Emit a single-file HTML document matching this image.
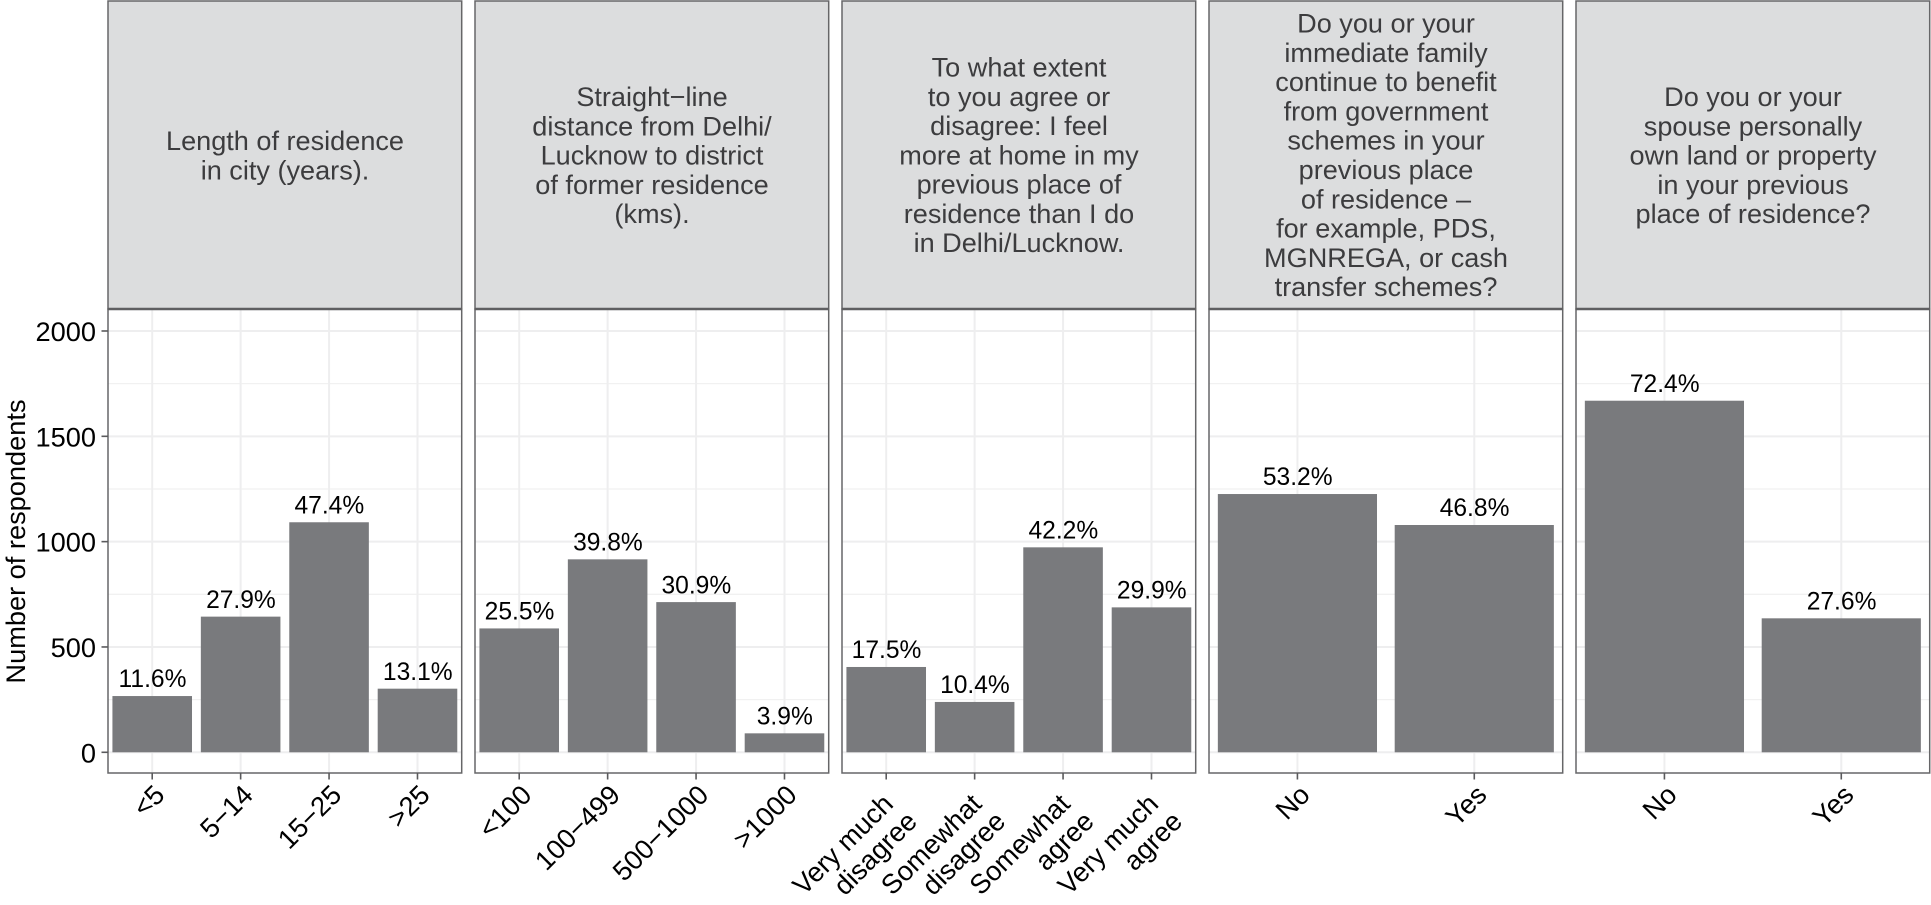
<!DOCTYPE html>
<html lang="en">
<head>
<meta charset="utf-8">
<title>Respondents by residence and ties to previous place</title>
<style>
  html, body { margin: 0; padding: 0; background: #fff; }
  body { width: 1931px; height: 905px; overflow: hidden; }
  svg { display: block; font-family: "Liberation Sans", Arial, Helvetica, sans-serif; }
  .strip-title { font-size: 27.1px; fill: #3c3c3e; text-anchor: middle; }
</style>
</head>
<body>
<svg id="chart" xmlns="http://www.w3.org/2000/svg" width="1931" height="905" viewBox="0 0 1931 905">
  <g id="layer-panels"></g>

  <g>
    <text class="strip-title" x="285" y="150"><tspan x="285">Length of residence</tspan><tspan x="285" dy="29.26">in city (years).</tspan></text>
    <text class="strip-title" x="652" y="106"><tspan x="652">Straight−line</tspan><tspan x="652" dy="29.26">distance from Delhi/</tspan><tspan x="652" dy="29.26">Lucknow to district</tspan><tspan x="652" dy="29.26">of former residence</tspan><tspan x="652" dy="29.26">(kms).</tspan></text>
    <text class="strip-title" x="1019" y="76.6"><tspan x="1019">To what extent</tspan><tspan x="1019" dy="29.26">to you agree or</tspan><tspan x="1019" dy="29.26">disagree: I feel</tspan><tspan x="1019" dy="29.26">more at home in my</tspan><tspan x="1019" dy="29.26">previous place of</tspan><tspan x="1019" dy="29.26">residence than I do</tspan><tspan x="1019" dy="29.26">in Delhi/Lucknow.</tspan></text>
    <text class="strip-title" x="1386" y="32.7"><tspan x="1386">Do you or your</tspan><tspan x="1386" dy="29.26">immediate family</tspan><tspan x="1386" dy="29.26">continue to benefit</tspan><tspan x="1386" dy="29.26">from government</tspan><tspan x="1386" dy="29.26">schemes in your</tspan><tspan x="1386" dy="29.26">previous place</tspan><tspan x="1386" dy="29.26">of residence –</tspan><tspan x="1386" dy="29.26">for example, PDS,</tspan><tspan x="1386" dy="29.26">MGNREGA, or cash</tspan><tspan x="1386" dy="29.26">transfer schemes?</tspan></text>
    <text class="strip-title" x="1753" y="106"><tspan x="1753">Do you or your</tspan><tspan x="1753" dy="29.26">spouse personally</tspan><tspan x="1753" dy="29.26">own land or property</tspan><tspan x="1753" dy="29.26">in your previous</tspan><tspan x="1753" dy="29.26">place of residence?</tspan></text>
  </g>

  <g id="layer-y-axis"></g>
  <text transform="translate(25,541.5) rotate(-90)" text-anchor="middle" font-size="27.2" fill="#000">Number of respondents</text>
</svg>

<script>
// Chart data
const yTicks = [0, 500, 1000, 1500, 2000];
const yMinorTicks = [250, 750, 1250, 1750];
const yTickLabels = ["0", "500", "1000", "1500", "2000"];

const categoriesResidence = ["<5", "5−14", "15−25", ">25"];
const valuesResidence = [267, 644, 1092, 302];
const labelsResidence = ["11.6%", "27.9%", "47.4%", "13.1%"];

const categoriesDistance = ["<100", "100−499", "500−1000", ">1000"];
const valuesDistance = [588, 916, 713, 90];
const labelsDistance = ["25.5%", "39.8%", "30.9%", "3.9%"];

const categoriesHome = ["Very much\ndisagree", "Somewhat\ndisagree", "Somewhat\nagree", "Very much\nagree"];
const valuesHome = [405, 239, 973, 688];
const labelsHome = ["17.5%", "10.4%", "42.2%", "29.9%"];

const categoriesSchemes = ["No", "Yes"];
const valuesSchemes = [1226, 1079];
const labelsSchemes = ["53.2%", "46.8%"];

const categoriesLand = ["No", "Yes"];
const valuesLand = [1669, 636];
const labelsLand = ["72.4%", "27.6%"];

const panelSlugs = ["residence", "distance", "home", "schemes", "land"];
const panelCategories = [categoriesResidence, categoriesDistance, categoriesHome, categoriesSchemes, categoriesLand];
const panelValues = [valuesResidence, valuesDistance, valuesHome, valuesSchemes, valuesLand];
const panelLabels = [labelsResidence, labelsDistance, labelsHome, labelsSchemes, labelsLand];

// Layout
const NS = "http://www.w3.org/2000/svg";
const panelLeft0 = 108, panelStep = 367, panelW = 353.7;
const stripTop = 1, plotTop = 309, plotBottom = 773;
const yDomainMin = -98.3, yDomainMax = 2104.4;

function yScale(v) {
  return plotBottom - (v - yDomainMin) / (yDomainMax - yDomainMin) * (plotBottom - plotTop);
}
function xScale(panelIndex, catIndex, n) {
  const left = panelLeft0 + panelIndex * panelStep;
  return left + (catIndex + 0.5) * panelW / n;
}
function make(tag, attrs, parent) {
  const el = document.createElementNS(NS, tag);
  for (const k in attrs) el.setAttribute(k, attrs[k]);
  parent.appendChild(el);
  return el;
}

const panelsLayer = document.getElementById("layer-panels");
const yAxisLayer = document.getElementById("layer-y-axis");

panelCategories.forEach(function (cats, p) {
  const left = panelLeft0 + p * panelStep;
  const right = left + panelW;
  const n = cats.length;
  const g = make("g", {}, panelsLayer);
  
  

  const strip = make("rect", { x: left, y: stripTop, width: panelW, height: plotTop - stripTop, fill: "#dcddde", stroke: "#666668", "stroke-width": 1.5 }, g);
  
  

  const bg = make("rect", { x: left, y: plotTop, width: panelW, height: plotBottom - plotTop, fill: "#ffffff" }, g);
  
  

  yMinorTicks.forEach(function (t) {
    const line = make("line", { x1: left, x2: right, y1: yScale(t), y2: yScale(t), stroke: "#f1f1f1", "stroke-width": 1.3 }, g);
    
    
  });
  yTicks.forEach(function (t) {
    const line = make("line", { x1: left, x2: right, y1: yScale(t), y2: yScale(t), stroke: "#eeeeef", "stroke-width": 2 }, g);
    
    
  });
  cats.forEach(function (c, i) {
    const x = xScale(p, i, n);
    const line = make("line", { x1: x, x2: x, y1: plotTop, y2: plotBottom, stroke: "#eeeeef", "stroke-width": 2 }, g);
    
    
  });

  const bandW = panelW / n;
  panelValues[p].forEach(function (v, i) {
    const cx = xScale(p, i, n);
    const barW = bandW * 0.9;
    const bar = make("rect", { x: cx - barW / 2, y: yScale(v), width: barW, height: yScale(0) - yScale(v), fill: "#797a7d" }, g);
    
    

    const lab = make("text", { x: cx + 0.3, y: yScale(v) - 8.8, "text-anchor": "middle", "font-size": 24.6, fill: "#000" }, g);
    
    
    lab.textContent = panelLabels[p][i];
  });

  const border = make("rect", { x: left, y: plotTop, width: panelW, height: plotBottom - plotTop, fill: "none", stroke: "#666668", "stroke-width": 1.5 }, g);
  
  

  const stripRule = make("line", { x1: left, x2: right, y1: plotTop, y2: plotTop, stroke: "#5f5f61", "stroke-width": 2.4 }, g);
  
  

  cats.forEach(function (c, i) {
    const x = xScale(p, i, n);
    const tick = make("line", { x1: x, x2: x, y1: plotBottom, y2: plotBottom + 6.5, stroke: "#5a5a5c", "stroke-width": 1.6 }, g);
    
    

    const lines = c.split("\n");
    const ex = x + (lines.length > 1 ? 8.5 : 14);
    const ey = plotBottom + (lines.length > 1 ? 32.5 : 23.5);
    const t = make("text", { transform: "translate(" + ex + "," + ey + ") rotate(-45)", "text-anchor": "end", "font-size": 27.2, fill: "#000" }, g);
    
    
    lines.forEach(function (line, li) {
      const ts = make("tspan", { x: li * 4.5, y: li * 29.26 }, t);
      ts.textContent = line;
    });
  });
});

yTicks.forEach(function (t, i) {
  const y = yScale(t);
  const tick = make("line", { x1: panelLeft0 - 6.5, x2: panelLeft0, y1: y, y2: y, stroke: "#5a5a5c", "stroke-width": 1.6 }, yAxisLayer);
  
  

  const label = make("text", { x: 96, y: y + 10, "text-anchor": "end", "font-size": 27.2, fill: "#000" }, yAxisLayer);
  
  
  label.textContent = yTickLabels[i];
});
</script>
</body>
</html>
